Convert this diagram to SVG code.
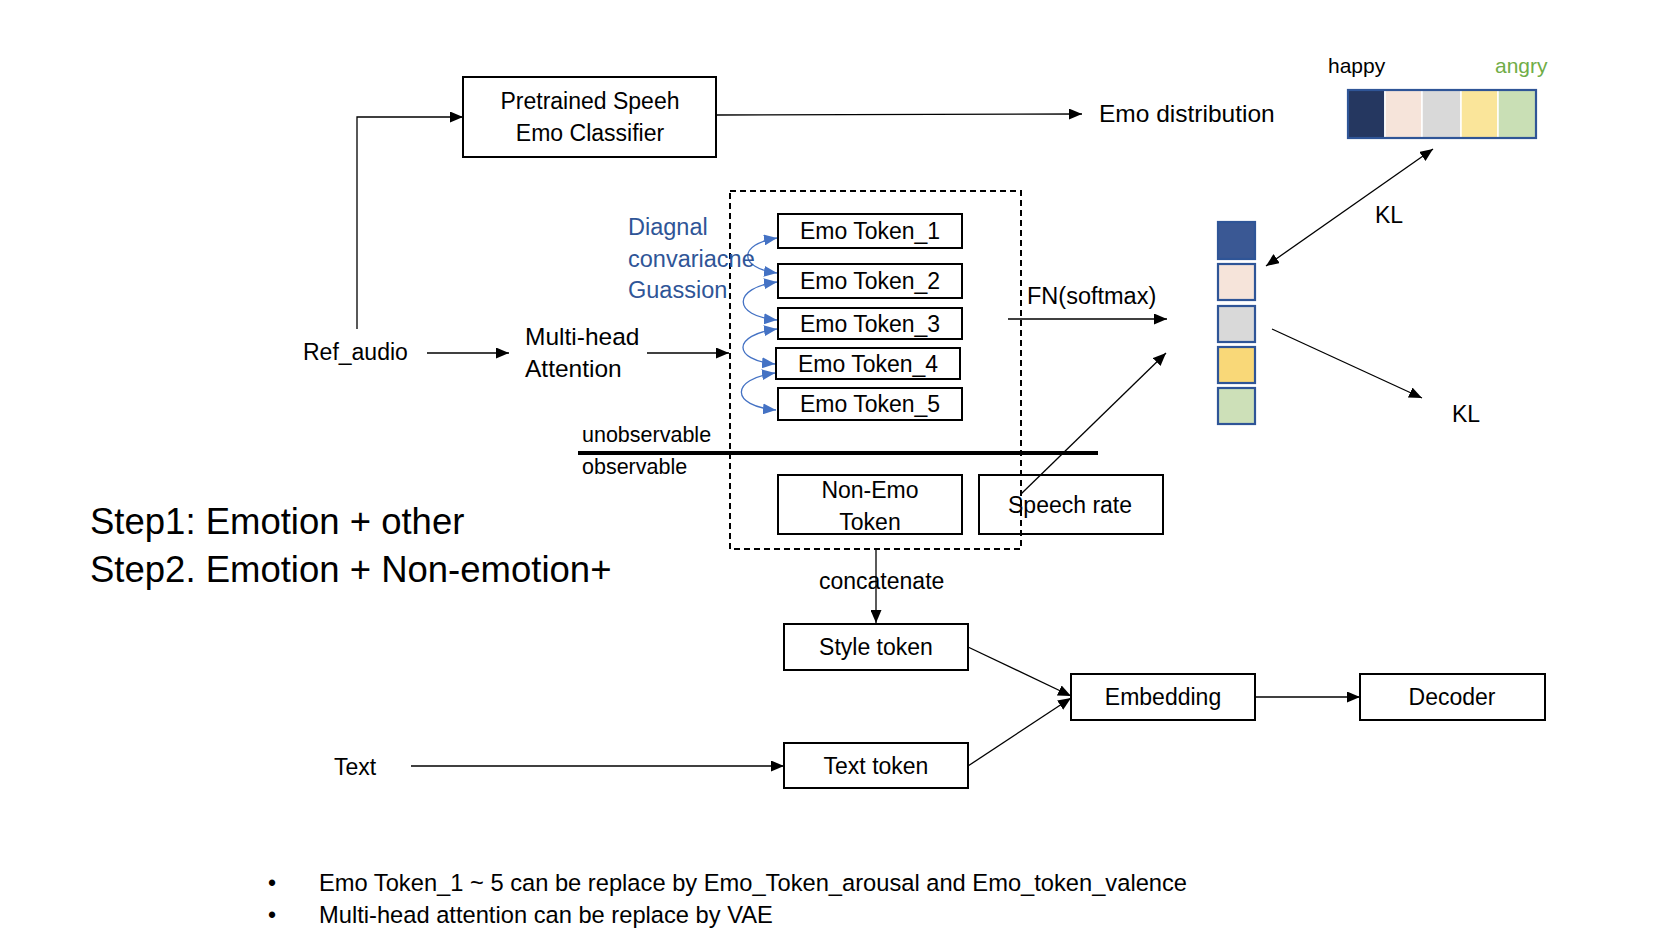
<svg xmlns="http://www.w3.org/2000/svg" width="1664" height="946" viewBox="0 0 1664 946">
<style>
text{font-family:"Liberation Sans",Arial,sans-serif;font-size:23px;fill:#000}
.c{text-anchor:middle}
.box{fill:#fff;stroke:#000;stroke-width:2}
.ln{fill:none;stroke:#000;stroke-width:1.3}
.blue{fill:none;stroke:#4472c4;stroke-width:1.3}
.bt{fill:#2f5597}
.cell{stroke:#2f5597;stroke-width:2.2}
</style>
<defs>
<marker id="ah" markerUnits="userSpaceOnUse" markerWidth="13" markerHeight="11" refX="13" refY="5.5" orient="auto-start-reverse"><path d="M0,0L13,5.5L0,11z" fill="#000"/></marker>
<marker id="bh" markerUnits="userSpaceOnUse" markerWidth="13" markerHeight="11" refX="13" refY="5.5" orient="auto-start-reverse"><path d="M0,0L13,5.5L0,11z" fill="#4472c4"/></marker>
</defs>
<rect width="1664" height="946" fill="#fff"/>

<g id="connectors">
<polyline class="ln" points="357,329 357,117 463,117" marker-end="url(#ah)"/>
<line class="ln" x1="716" y1="115" x2="1082" y2="114" marker-end="url(#ah)"/>
<line class="ln" x1="427" y1="353" x2="509" y2="353" marker-end="url(#ah)"/>
<line class="ln" x1="647" y1="353" x2="729" y2="353" marker-end="url(#ah)"/>
<line class="ln" x1="1008" y1="319" x2="1167" y2="319" marker-end="url(#ah)"/>
<line class="ln" x1="1021" y1="494" x2="1166" y2="353" marker-end="url(#ah)"/>
<line class="ln" x1="1266" y1="266" x2="1433" y2="149" marker-start="url(#ah)" marker-end="url(#ah)"/>
<line class="ln" x1="1272" y1="329" x2="1422" y2="398" marker-end="url(#ah)"/>
<line class="ln" x1="876" y1="549" x2="876" y2="623" marker-end="url(#ah)"/>
<line class="ln" x1="968" y1="647" x2="1071" y2="696" marker-end="url(#ah)"/>
<line class="ln" x1="968" y1="766" x2="1071" y2="698" marker-end="url(#ah)"/>
<line class="ln" x1="1255" y1="697" x2="1360" y2="697" marker-end="url(#ah)"/>
<line class="ln" x1="411" y1="766" x2="784" y2="766" marker-end="url(#ah)"/>
<path class="blue" d="M777,238 C738,244 738,268 777,273" marker-start="url(#bh)" marker-end="url(#bh)"/>
<path class="blue" d="M777,282 C732,288 732,316 777,320" marker-start="url(#bh)" marker-end="url(#bh)"/>
<path class="blue" d="M777,329 C732,335 732,360 775,364" marker-start="url(#bh)" marker-end="url(#bh)"/>
<path class="blue" d="M775,373 C730,379 730,406 776,410" marker-start="url(#bh)" marker-end="url(#bh)"/>
</g>

<g id="group-box">
<rect x="730" y="191" width="291" height="358" fill="none" stroke="#000" stroke-width="2" stroke-dasharray="6,4"/>
</g>

<g id="classifier">
<rect class="box" x="463" y="77" width="253" height="80"/>
<text class="c" x="590" y="109">Pretrained Speeh</text>
<text class="c" x="590" y="141">Emo Classifier</text>
</g>

<g id="emo-distribution-label"><text x="1099" y="122" style="font-size:24.5px">Emo distribution</text></g>

<g id="emo-distribution">
<rect x="1348" y="90" width="37" height="48" fill="#253760" stroke="#fff" stroke-width="1.5"/>
<rect x="1385" y="90" width="37" height="48" fill="#f6e4da" stroke="#fff" stroke-width="1.5"/>
<rect x="1422" y="90" width="39" height="48" fill="#d9d9d9" stroke="#fff" stroke-width="1.5"/>
<rect x="1461" y="90" width="37" height="48" fill="#fae59a" stroke="#fff" stroke-width="1.5"/>
<rect x="1498" y="90" width="38" height="48" fill="#c9dfb5" stroke="#fff" stroke-width="1.5"/>
<rect x="1348" y="90" width="188" height="48" fill="none" stroke="#2f5597" stroke-width="2.2"/>
<text x="1328" y="73" style="font-size:21px">happy</text>
<text x="1495" y="73" style="font-size:21px;fill:#70ad47">angry</text>
</g>

<g id="predicted-distribution">
<rect class="cell" x="1218" y="222" width="37" height="37" fill="#3a5894"/>
<rect class="cell" x="1218" y="264" width="37" height="36" fill="#f6e4da"/>
<rect class="cell" x="1218" y="306" width="37" height="36" fill="#d9d9d9"/>
<rect class="cell" x="1218" y="347" width="37" height="36" fill="#f9d878"/>
<rect class="cell" x="1218" y="388" width="37" height="36" fill="#cde0b8"/>
</g>

<g id="kl-labels">
<text x="1375" y="223">KL</text>
<text x="1452" y="422">KL</text>
</g>

<g id="ref-audio"><text x="303" y="360">Ref_audio</text></g>
<g id="multihead">
<text x="525" y="345" style="font-size:24.5px">Multi-head</text>
<text x="525" y="377" style="font-size:24.5px">Attention</text>
</g>

<g id="gaussian-label">
<text class="bt" x="628" y="235" style="font-size:23.5px">Diagnal</text>
<text class="bt" x="628" y="267" style="font-size:23.5px">convariacne</text>
<text class="bt" x="628" y="298" style="font-size:23.5px">Guassion</text>
</g>

<g id="emo-token-1"><rect class="box" x="778" y="214" width="184" height="34"/><text class="c" x="870" y="239" style="font-size:23px">Emo Token_1</text></g>
<g id="emo-token-2"><rect class="box" x="778" y="264" width="184" height="34"/><text class="c" x="870" y="289" style="font-size:23px">Emo Token_2</text></g>
<g id="emo-token-3"><rect class="box" x="778" y="308" width="184" height="31"/><text class="c" x="870" y="332" style="font-size:23px">Emo Token_3</text></g>
<g id="emo-token-4"><rect class="box" x="776" y="348" width="184" height="31"/><text class="c" x="868" y="372" style="font-size:23px">Emo Token_4</text></g>
<g id="emo-token-5"><rect class="box" x="778" y="388" width="184" height="32"/><text class="c" x="870" y="412" style="font-size:23px">Emo Token_5</text></g>

<g id="fn-softmax"><text x="1027" y="304" style="font-size:23.5px">FN(softmax)</text></g>

<g id="observability">
<text x="582" y="442" style="font-size:21.5px">unobservable</text>
<line x1="578" y1="453" x2="1098" y2="453" stroke="#000" stroke-width="4"/>
<text x="582" y="474" style="font-size:21.5px">observable</text>
</g>

<g id="non-emo-token"><rect class="box" x="778" y="475" width="184" height="59"/><text class="c" x="870" y="498">Non-Emo</text><text class="c" x="870" y="530">Token</text></g>
<g id="speech-rate"><rect x="979" y="475" width="184" height="59" fill="none" stroke="#000" stroke-width="2"/><text x="1008" y="513">Speech rate</text></g>

<g id="concatenate"><text x="819" y="589">concatenate</text></g>

<g id="style-token"><rect class="box" x="784" y="624" width="184" height="46"/><text class="c" x="876" y="655">Style token</text></g>
<g id="text-token"><rect class="box" x="784" y="743" width="184" height="45"/><text class="c" x="876" y="774">Text token</text></g>
<g id="embedding"><rect class="box" x="1071" y="674" width="184" height="46"/><text class="c" x="1163" y="705">Embedding</text></g>
<g id="decoder"><rect class="box" x="1360" y="674" width="185" height="46"/><text class="c" x="1452" y="705">Decoder</text></g>
<g id="text-input"><text x="334" y="775">Text</text></g>

<g id="steps">
<text x="90" y="534" style="font-size:36.5px">Step1: Emotion + other</text>
<text x="90" y="582" style="font-size:36.5px">Step2. Emotion + Non-emotion+</text>
</g>

<g id="notes">
<text x="268" y="891">•</text>
<text x="319" y="891" style="font-size:23.7px">Emo Token_1 ~ 5 can be replace by Emo_Token_arousal and Emo_token_valence</text>
<text x="268" y="923">•</text>
<text x="319" y="923" style="font-size:23.7px">Multi-head attention can be replace by VAE</text>
</g>
</svg>
